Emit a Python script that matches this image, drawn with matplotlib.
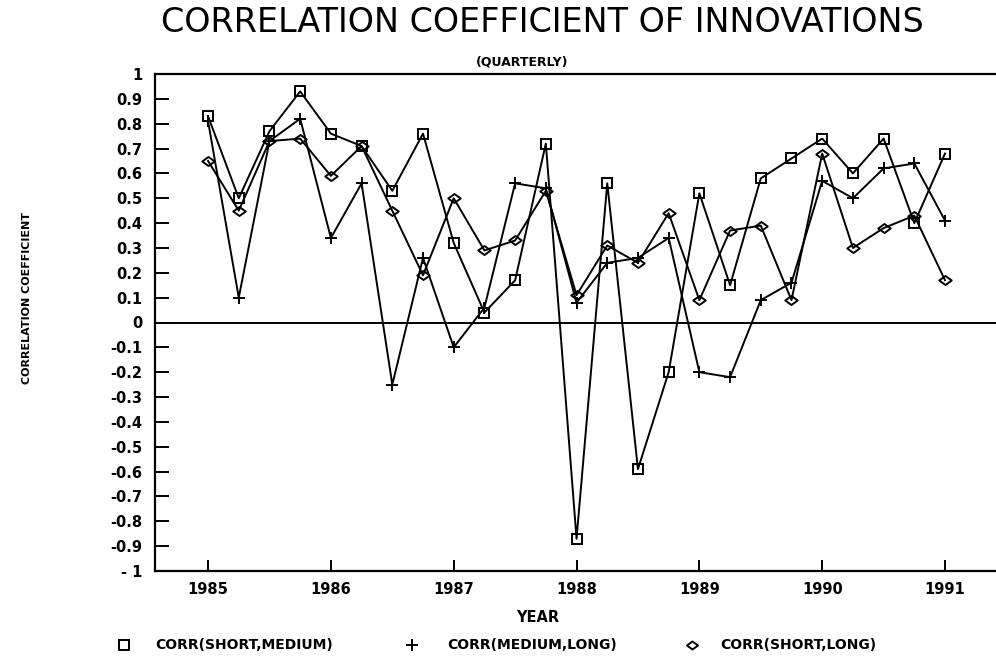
import numpy as np
import matplotlib.pyplot as plt
from matplotlib.lines import Line2D
from matplotlib.path import Path

# quarterly correlation coefficients of the innovations, 1985Q1 - 1991Q1
years = [1985, 1986, 1987, 1988, 1989, 1990, 1991]
short_medium = [0.83, 0.50, 0.77, 0.93, 0.76, 0.71, 0.53, 0.76, 0.32, 0.04, 0.17, 0.72, -0.87,
                0.56, -0.59, -0.20, 0.52, 0.15, 0.58, 0.66, 0.74, 0.60, 0.74, 0.40, 0.68]
medium_long = [0.81, 0.10, 0.73, 0.82, 0.34, 0.56, -0.25, 0.26, -0.10, 0.06, 0.56, 0.54, 0.08,
               0.24, 0.26, 0.34, -0.20, -0.22, 0.09, 0.16, 0.57, 0.50, 0.62, 0.64, 0.41]
short_long = [0.65, 0.45, 0.73, 0.74, 0.59, 0.71, 0.45, 0.19, 0.50, 0.29, 0.33, 0.53, 0.11,
              0.31, 0.24, 0.44, 0.09, 0.37, 0.39, 0.09, 0.68, 0.30, 0.38, 0.43, 0.17]
series_labels = ['CORR(SHORT,MEDIUM)', 'CORR(MEDIUM,LONG)', 'CORR(SHORT,LONG)']
y_ticks = [-1, -0.9, -0.8, -0.7, -0.6, -0.5, -0.4, -0.3, -0.2, -0.1, 0,
           0.1, 0.2, 0.3, 0.4, 0.5, 0.6, 0.7, 0.8, 0.9, 1]
y_tick_labels = ['- 1', '-0.9', '-0.8', '-0.7', '-0.6', '-0.5', '-0.4', '-0.3', '-0.2', '-0.1', '0',
                 '0.1', '0.2', '0.3', '0.4', '0.5', '0.6', '0.7', '0.8', '0.9', '1']

quarters = years[0] + np.arange(len(short_medium)) / 4

W, H = 996, 657


def fx(x):
    return x / W


def fy(y):
    return 1 - y / H


# flat open diamond like the plotter symbol
diamond = Path([(-1, 0), (0, 0.72), (1, 0), (0, -0.72), (-1, 0)],
               [Path.MOVETO, Path.LINETO, Path.LINETO, Path.LINETO, Path.CLOSEPOLY])

fig = plt.figure(figsize=(W / 100, H / 100), dpi=100)
ax = fig.add_axes([fx(155), fy(571), 1 - fx(155), (571 - 74) / H])

lw = 1.4
ax.plot(quarters, short_medium, color='k', lw=lw, marker='s', ms=7.5,
        mfc='none', mec='k', mew=lw)
ax.plot(quarters, medium_long, color='k', lw=lw, marker='+', ms=9, mew=lw)
ax.plot(quarters, short_long, color='k', lw=lw, marker=diamond, ms=9,
        mfc='none', mec='k', mew=lw)
ax.axhline(0, color='k', lw=lw)

ax.set_xlim(1984.568, 1991.415)
ax.set_ylim(-1, 1)
ax.set_xticks(years)
ax.set_xticklabels([str(y) for y in years], fontsize=10.5, fontweight='bold')
ax.set_yticks(y_ticks)
ax.set_yticklabels(y_tick_labels, fontsize=10.5, fontweight='bold')
ax.tick_params(axis='y', direction='in', length=10, width=lw, pad=9)
ax.tick_params(axis='x', direction='in', length=8, width=lw, pad=8)
ax.spines['right'].set_visible(False)
for side in ['left', 'top', 'bottom']:
    ax.spines[side].set_linewidth(1.6)

fig.text(fx(542), fy(23), 'CORRELATION COEFFICIENT OF INNOVATIONS',
         ha='center', va='center', fontsize=24, family='DejaVu Sans')
fig.text(fx(522), fy(62), '(QUARTERLY)', ha='center', va='center',
         fontsize=9, fontweight='bold')
fig.text(fx(27), fy(298), 'CORRELATION COEFFICIENT', rotation=90,
         ha='center', va='center', fontsize=8, fontweight='bold')
fig.text(fx(538), fy(618), 'YEAR', ha='center', va='center',
         fontsize=10.5, fontweight='bold')

# legend row under the axis title
legend_items = [('s', 7, 124, 155), ('+', 9, 412, 447), (diamond, 8, 692, 720)]
for (mk, size, mx, tx), label in zip(legend_items, series_labels):
    fig.add_artist(Line2D([fx(mx)], [fy(645)], transform=fig.transFigure,
                          marker=mk, ms=size, mfc='none', mec='k', mew=lw,
                          color='k', linestyle='none'))
    fig.text(fx(tx), fy(645), label, ha='left', va='center',
             fontsize=10, fontweight='bold')

fig.savefig('out.png', dpi=100)
